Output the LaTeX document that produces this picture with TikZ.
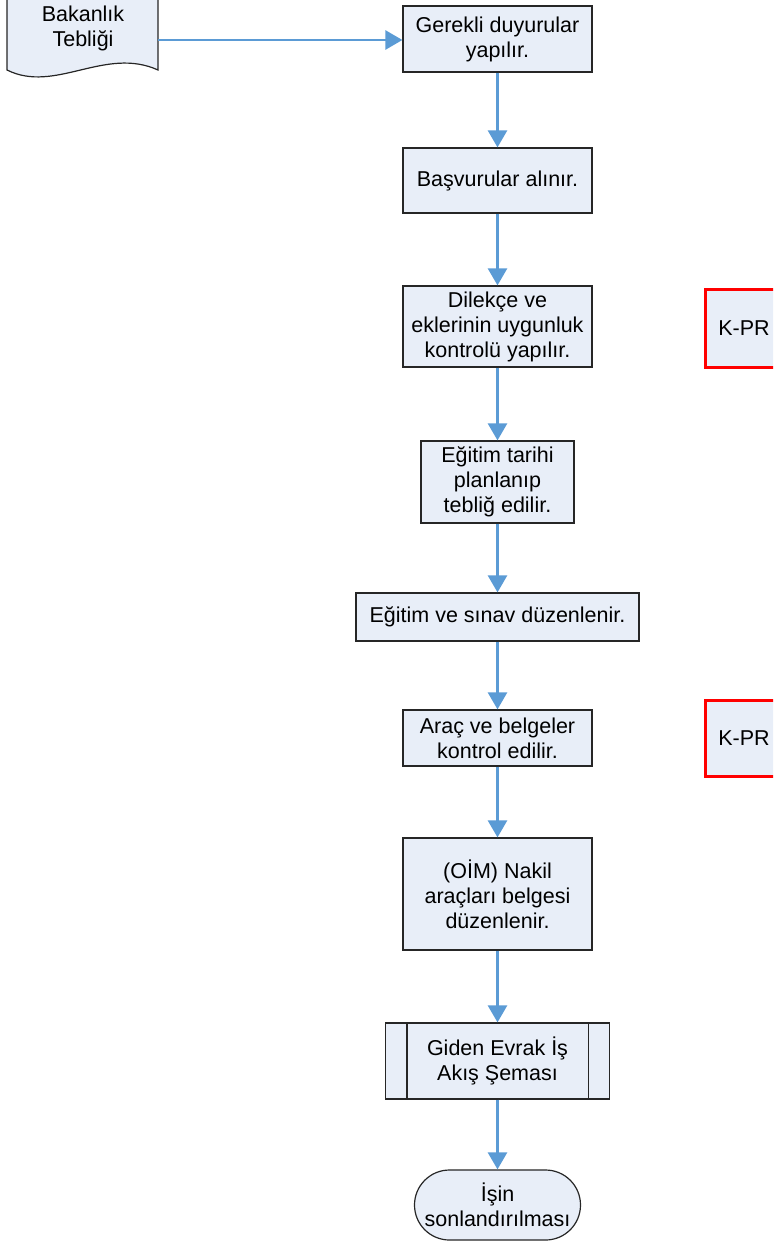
\documentclass[tikz,border=0pt]{standalone}
\usepackage{fontspec}
\setmainfont{Liberation Sans}
\usetikzlibrary{arrows.meta,shapes.misc}
\definecolor{boxfill}{HTML}{E8EEF8}
\definecolor{arrowblue}{HTML}{5B9BD5}
\definecolor{boxline}{HTML}{262626}
\tikzset{
  procbox/.style={draw=boxline,line width=1.2pt,fill=boxfill,align=center,inner sep=2pt,
    font=\fontsize{21.5}{25}\selectfont},
  kprbox/.style={draw=red,line width=3pt,fill=boxfill,align=center,
    font=\fontsize{21.5}{25}\selectfont},
  flow/.style={draw=arrowblue,line width=2.6pt,-{Triangle[length=17pt,width=19pt]}},
}
\begin{document}
\begin{tikzpicture}[x=1pt,y={(0pt,-1pt)}]
\useasboundingbox (0,0) rectangle (773,1246);
\clip (0,0) rectangle (773,1246);
% document shape
\filldraw[draw=boxline,line width=1.2pt,fill=boxfill]
  (7,-5) -- (7,70) .. controls (55,94) and (105,46) .. (158,70) -- (158,-5) -- cycle;
\node[font=\fontsize{21.5}{25}\selectfont,align=center] (doc) at (83,28) {Bakanlık\\Tebliği};
\coordinate (docr) at (158,40);

\node[procbox,minimum width=189pt,minimum height=66pt] (g) at (497.5,39) {Gerekli duyurular\\yapılır.};
\node[procbox,minimum width=189pt,minimum height=65pt] (b) at (497.5,180.5) {Başvurular alınır.};
\node[procbox,minimum width=189pt,minimum height=81pt] (d) at (497.5,326.5) {Dilekçe ve\\eklerinin uygunluk\\kontrolü yapılır.};
\node[procbox,minimum width=153pt,minimum height=82pt] (e) at (497.5,482) {Eğitim tarihi\\planlanıp\\tebliğ edilir.};
\node[procbox,minimum width=283pt,minimum height=48pt] (s) at (497.5,617) {Eğitim ve sınav düzenlenir.};
\node[procbox,minimum width=189pt,minimum height=56pt] (a) at (497.5,738) {Araç ve belgeler\\kontrol edilir.};
\node[procbox,minimum width=189pt,minimum height=112pt] (o) at (497.5,894) {(OİM) Nakil\\araçları belgesi\\düzenlenir.};
\node[procbox,minimum width=224pt,minimum height=76pt] (ge) at (497.5,1061) {Giden Evrak İş\\Akış Şeması};
\draw[boxline,line width=1.2pt] ([xshift=22pt]ge.north west) -- ([xshift=22pt]ge.south west);
\draw[boxline,line width=1.2pt] ([xshift=-22pt]ge.north east) -- ([xshift=-22pt]ge.south east);
\node[procbox,rounded rectangle,minimum width=170pt,minimum height=70pt] (t) at (497.5,1205) {İşin\\sonlandırılması};

\node[kprbox,minimum width=78pt,minimum height=77pt] (k1) at (744,328.5) {K-PR};
\node[kprbox,minimum width=78pt,minimum height=76pt] (k2) at (744,738) {K-PR};

\draw[flow] (docr) -- (g.west |- docr);
\draw[flow] (g) -- (b);
\draw[flow] (b) -- (d);
\draw[flow] (d) -- (e);
\draw[flow] (e) -- (s);
\draw[flow] (s) -- (a);
\draw[flow] (a) -- (o);
\draw[flow] (o) -- (ge);
\draw[flow] (ge) -- (t);
\end{tikzpicture}
\end{document}
